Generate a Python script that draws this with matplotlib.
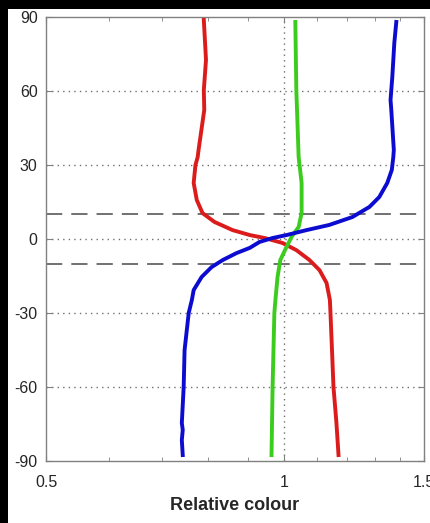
import numpy as np
import matplotlib.pyplot as plt
from matplotlib.patches import Rectangle
from matplotlib.ticker import FixedLocator, NullFormatter

# latitude (deg) and relative colour
red_lat = [88.8, 72.6, 60.4, 52.3, 36.1, 33.2, 30.0, 22.7, 15.8, 10.5, 6.9, 3.6, 1.6, 0.4,
           -1.6, -4.5, -8.5, -12.6, -17.8, -24.7, -30.0, -47.8, -60.0, -74.6, -87.6]
red_val = [0.791, 0.796, 0.791, 0.792, 0.779, 0.777, 0.772, 0.768, 0.775, 0.788, 0.816, 0.860,
           0.904, 0.944, 0.994, 1.035, 1.075, 1.107, 1.130, 1.141, 1.143, 1.149, 1.153, 1.163, 1.170]

blue_lat = [88.0, 79.5, 65.7, 60.4, 56.4, 52.3, 36.1, 33.2, 28.0, 22.7, 17.0, 13.0, 8.9, 5.7,
            3.6, 1.6, 0.4, -1.2, -3.6, -5.7, -8.5, -11.4, -15.4, -20.7, -24.7, -30.0, -45.0,
            -60.0, -74.6, -77.4, -81.5, -87.6]
blue_val = [1.384, 1.376, 1.368, 1.364, 1.361, 1.364, 1.374, 1.372, 1.366, 1.348, 1.317, 1.280,
            1.218, 1.139, 1.066, 1.006, 0.966, 0.930, 0.904, 0.870, 0.836, 0.809, 0.786, 0.768,
            0.764, 0.757, 0.748, 0.746, 0.742, 0.744, 0.742, 0.744]

green_lat = [88.0, 60.4, 33.2, 22.7, 10.5, 4.9, 0.9, -3.2, -8.5, -15.4, -24.7, -30.0, -60.0, -87.6]
green_val = [1.032, 1.035, 1.042, 1.051, 1.051, 1.042, 1.021, 1.006, 0.988, 0.980, 0.974,
             0.971, 0.966, 0.963]

yticks = [-90, -60, -30, 0, 30, 60, 90]
xticks = [0.5, 1, 1.5]
xminor = [0.6, 0.7, 0.8, 0.9, 1.1, 1.2, 1.3, 1.4]
band = [-10, 10]

plt.rcParams['font.family'] = ['Liberation Sans', 'DejaVu Sans']

fig = plt.figure(figsize=(4.31, 5.23), dpi=100)
fig.patch.set_facecolor('black')
fig.patches.append(Rectangle((8 / 431, 0), 1, 1 - 9 / 523, transform=fig.transFigure,
                             facecolor='white', edgecolor='none', zorder=-10))
ax = fig.add_axes([46 / 431, 62 / 523, 378 / 431, 444 / 523])

ax.set_xscale('log')
ax.set_xlim(0.5, 1.5)
ax.set_ylim(-90, 90)

# grid: dotted at major ticks
for yv in yticks[1:-1]:
    ax.axhline(yv, color='#707070', lw=1.0, ls=(0, (1, 3)), zorder=1)
ax.axvline(1, color='#707070', lw=1.0, ls=(0, (1, 3)), zorder=1)
for yv in band:
    ax.axhline(yv, color='#666666', lw=1.3, ls=(0, (9, 5)), zorder=1)

ax.plot(red_val, red_lat, color='#dc1c1c', lw=2.8, zorder=3)
ax.plot(green_val, green_lat, color='#3ccc1e', lw=2.8, zorder=3)
ax.plot(blue_val, blue_lat, color='#0c0cd0', lw=2.8, zorder=3)

ax.yaxis.set_major_locator(FixedLocator(yticks))
ax.set_yticklabels([str(v) for v in yticks])
ax.xaxis.set_major_locator(FixedLocator(xticks))
ax.xaxis.set_minor_locator(FixedLocator(xminor))
ax.xaxis.set_minor_formatter(NullFormatter())
ax.set_xticklabels(['0.5', '1', '1.5'])

ax.tick_params(which='both', direction='in', top=True, right=True, colors='#808080',
               labelcolor='#262626', labelsize=11.5)
ax.tick_params(axis='y', pad=6, length=4)
ax.tick_params(axis='x', which='major', pad=10, length=4)
ax.tick_params(axis='x', which='minor', length=3)

for s in ax.spines.values():
    s.set_color('#808080')
    s.set_linewidth(1.0)

ax.set_xlabel('Relative colour', fontsize=13, fontweight='bold', color='#262626', labelpad=5)

fig.savefig('out.png', dpi=100, facecolor=fig.get_facecolor())
